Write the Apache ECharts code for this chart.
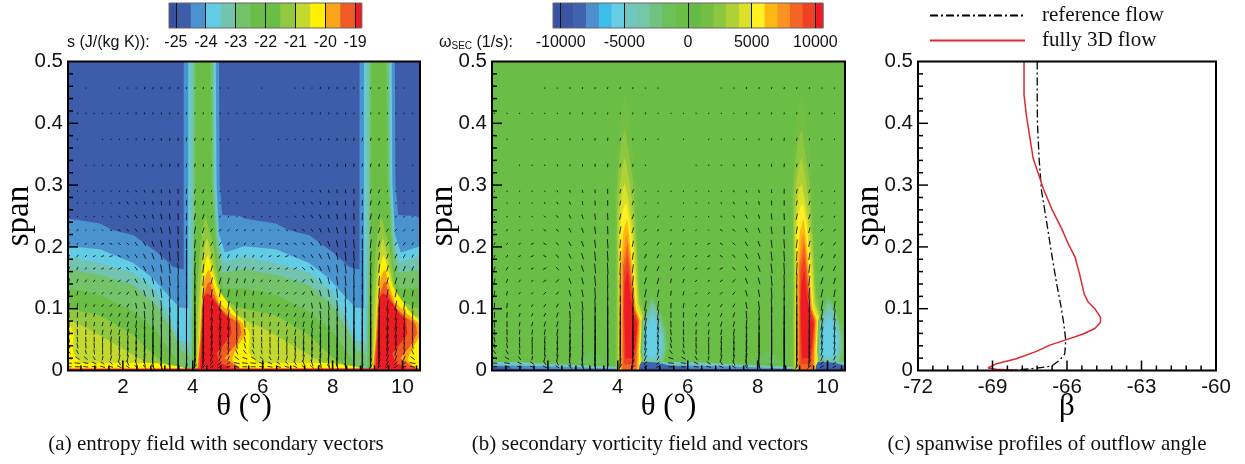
<!DOCTYPE html>
<html>
<head>
<meta charset="utf-8">
<script src="https://cdn.jsdelivr.net/npm/echarts@6/dist/echarts.min.js"></script>
<style>html,body{margin:0;background:#fff}#main{width:1245px;height:464px}</style>
</head>
<body>
<div id="main"></div>
<script>
// colour bars: edges of each colour piece
var entropyEdges = [-25.23, -25, -24.5, -24, -23.5, -23, -22.5, -22, -21.5, -21, -20.5, -20, -19.5, -19, -18.78];
var entropyColors = ['#38529f', '#3d5ca9', '#4b93cf', '#62cce5', '#72c4ae', '#74c269', '#6abd45', '#6abd45', '#92c83e', '#c4d92f', '#fff100', '#faa41a', '#f15a24', '#ed1c24'];
var entropyTicks = [-25, -24, -23, -22, -21, -20, -19];
var vortEdges = [-10600, -10000, -9000, -8000, -7000, -6000, -5000, -4000, -3000, -2000, -1000, 0, 1000, 2000, 3000, 4000, 5000, 6000, 7000, 8000, 9000, 10000, 10600];
var vortColors = ['#3853a4', '#3b55a5', '#3f63ae', '#4d8fcc', '#3dbde9', '#67cde3', '#71c7c0', '#73c6a6', '#70c27e', '#6cc05a', '#6abd45', '#66bb46', '#72bf44', '#8dc63f', '#b0d136', '#dbe128', '#fff01f', '#fdb913', '#f99221', '#f26522', '#ef4123', '#ed1c24'];
var vortTicks = [-10000, -5000, 0, 5000, 10000];

// axis ticks of the three panels
var thetaTicks = [2, 4, 6, 8, 10];
var thetaMinor = [.8, 1.2, 1.6, 2.4, 2.8, 3.2, 3.6, 4.4, 4.8, 5.2, 5.6, 6.4, 6.8, 7.2, 7.6, 8.4, 8.8, 9.2, 9.6, 10.4];
var betaTicks = [-69, -66, -63];
var betaMinor = [-71.4, -70.8, -70.2, -69.6, -68.4, -67.8, -67.2, -66.6, -65.4, -64.8, -64.2, -63.6, -62.4, -61.8, -61.2, -60.6];
var spanTicks = [.1, .2, .3, .4];
var spanMinor = [.02, .04, .06, .08, .12, .14, .16, .18, .22, .24, .26, .28, .32, .34, .36, .38, .42, .44, .46, .48];

// entropy contours, one blade pitch, painted low to high
var pitchA = [-5.03, 0, 5.03];
var entropyValues = [-24.75, -24.25, -24.25, -23.75, -23.75, -23.25, -23.25, -22.75, -22.75, -22.25, -22.25, -21.25, -21.25, -20.75, -20.75, -20.25, -19.75, -19.25, -18.9, -18.9];
var entropyShapes = [
    [[-1, 0], [15, 0], [15, .5], [-1, .5]],
    [[4.7, .252], [5.34, .25], [5.47, .246], [6.37, .238], [6.75, .227], [7.33, .219], [7.99, .192], [8.47, .168], [8.73, .164], [8.95, .164], [8.95, 0], [4.7, 0]],
    [[3.74, .5], [4.75, .5], [4.77, .3], [4.84, .255], [4.84, 0], [3.74, 0]],
    [[4.7, .19], [5, .192], [5.47, .201], [6.37, .196], [7.33, .174], [7.9, .149], [8.4, .117], [8.65, .102], [8.95, .1], [8.95, 0], [4.7, 0]],
    [[3.87, .5], [4.66, .5], [4.68, .3], [4.75, .22], [4.9, .195], [4.9, 0], [3.87, 0]],
    [[4.7, .173], [5.47, .184], [6.37, .174], [7.33, .158], [7.99, .128], [8.4, .082], [8.65, .049], [8.95, .044], [8.95, 0], [4.7, 0]],
    [[3.93, .5], [4.6, .5], [4.63, .3], [4.72, .22], [4.88, .175], [4.88, 0], [3.93, 0]],
    [[4.7, .157], [5.47, .164], [6.37, .155], [7.33, .138], [7.99, .106], [8.47, .06], [8.7, .033], [8.95, .028], [8.95, 0], [4.7, 0]],
    [[4.03, .5], [4.58, .5], [4.6, .3], [4.7, .2], [4.85, .16], [4.85, 0], [3.95, 0], [3.97, .08], [4.02, .2]],
    [[4.7, .133], [5.47, .133], [6.37, .122], [7.33, .095], [7.99, .063], [8.47, .025], [8.7, .006], [8.95, .003], [8.95, 0], [4.7, 0]],
    [[4.08, .5], [4.5, .5], [4.55, .3], [4.7, .17], [4.85, .135], [4.85, 0], [3.97, 0], [4, .1], [4.06, .25]],
    [[4.9, .109], [5.47, .1], [6.37, .09], [7.33, .057], [7.99, .022], [8.3, .009], [8.5, .002], [8.5, 0], [4.9, 0]],
    [[4.37, .25], [4.45, .23], [4.6, .2], [4.72, .15], [4.85, .115], [5.2, .105], [5.2, 0], [4.03, 0], [4.08, .1], [4.18, .18], [4.27, .23]],
    [[5.3, .085], [5.47, .082], [5.9, .071], [6.37, .057], [7.33, .025], [7.8, .01], [8.1, .002], [8.1, 0], [5.3, 0]],
    [[4.42, .214], [4.55, .18], [4.72, .135], [4.95, .095], [5.47, .085], [5.47, 0], [4.1, 0], [4.16, .1], [4.25, .17], [4.35, .205]],
    [[4.44, .187], [4.52, .17], [4.68, .136], [5.15, .097], [5.47, .079], [5.63, .06], [5.6, .03], [5.82, .012], [8, .012], [8.7, .006], [8.95, 0], [4.11, 0], [4.18, .05], [4.22, .1], [4.28, .15], [4.38, .18]],
    [[4.47, .163], [4.58, .14], [4.75, .11], [5.1, .092], [5.44, .076], [5.49, .057], [5.25, .036], [5.11, .017], [5.34, .004], [5.34, 0], [4.12, 0], [4.2, .05], [4.24, .1], [4.3, .14], [4.4, .158]],
    [[4.47, .144], [4.58, .125], [4.8, .1], [5.1, .085], [5.34, .076], [5.39, .06], [5.2, .04], [4.9, .02], [5.34, .004], [5.34, 0], [4.14, 0], [4.22, .05], [4.27, .1], [4.33, .125], [4.42, .14]],
    [[4.5, .122], [4.73, .105], [4.87, .093], [5.06, .082], [5.11, .06], [4.87, .041], [4.68, .028], [4.77, .012], [5.06, .006], [5.06, 0], [4.2, 0], [4.25, .055], [4.32, .12], [4.42, .125]],
    [[-1, 0], [15, 0], [15, .003], [-1, .003]]
];

// vorticity contours
var pitchB = [-5.05, 0, 5.05];
var vortValues = [-500, 1500, 2500, 3500, 4500, 5500, 6500, 7500, 8500, 9500, 10300, -1500, -2500, -3500, -4500, -5500, -1500, -4500, -7500, -8500, -9500];
var vortShapes = [
    [[-1, 0], [15, 0], [15, .5], [-1, .5]],
    [[4.21, .448], [4.34, .41], [4.45, .35], [4.54, .3], [4.6, .2], [4.66, .12], [4.86, .08], [4.8, .03], [4.72, 0], [3.92, 0], [3.92, .3], [3.98, .35], [4.08, .41]],
    [[4.21, .392], [4.32, .35], [4.45, .3], [4.55, .2], [4.62, .12], [4.82, .08], [4.76, .03], [4.7, 0], [3.96, 0], [3.96, .28], [4.02, .33], [4.1, .37]],
    [[4.21, .346], [4.32, .31], [4.42, .27], [4.52, .2], [4.6, .11], [4.78, .08], [4.73, .03], [4.68, 0], [4, 0], [3.99, .25], [4.05, .3], [4.12, .33]],
    [[4.21, .303], [4.32, .27], [4.42, .23], [4.5, .18], [4.57, .11], [4.74, .08], [4.7, .03], [4.66, 0], [4.03, 0], [4.02, .22], [4.08, .27], [4.14, .295]],
    [[4.24, .271], [4.34, .24], [4.42, .2], [4.48, .15], [4.55, .1], [4.7, .08], [4.64, .03], [4.63, 0], [4.05, 0], [4.05, .2], [4.1, .25], [4.18, .265]],
    [[4.27, .246], [4.36, .2], [4.44, .15], [4.52, .1], [4.66, .08], [4.6, .03], [4.6, 0], [4.08, 0], [4.09, .18], [4.16, .225]],
    [[4.27, .222], [4.36, .18], [4.43, .14], [4.5, .1], [4.62, .08], [4.57, .03], [4.56, 0], [4.1, 0], [4.12, .17], [4.2, .21]],
    [[4.28, .208], [4.38, .15], [4.47, .1], [4.6, .08], [4.55, .03], [4.53, 0], [4.13, 0], [4.15, .17]],
    [[4.28, .187], [4.37, .14], [4.46, .1], [4.58, .08], [4.52, .035], [4.47, .01], [4.18, .01], [4.16, .1], [4.18, .16]],
    [[4.28, .163], [4.36, .12], [4.46, .09], [4.56, .075], [4.5, .04], [4.42, .02], [4.22, .02], [4.18, .1], [4.2, .14]],
    [[4.95, .125], [5.15, .105], [5.35, .075], [5.45, .045], [5.35, .012], [4.7, .012], [4.65, .03], [4.68, .08]],
    [[4.97, .118], [5.2, .095], [5.35, .065], [5.4, .04], [5.3, .012], [4.72, .012], [4.68, .03], [4.72, .08]],
    [[5, .11], [5.2, .085], [5.32, .06], [5.35, .035], [5.25, .014], [4.74, .014], [4.7, .03], [4.74, .08]],
    [[5, .1], [5.18, .08], [5.3, .055], [5.28, .03], [5.18, .016], [4.76, .018], [4.72, .03], [4.76, .07]],
    [[5, .09], [5.15, .07], [5.26, .05], [5.2, .028], [4.95, .02], [4.78, .028], [4.75, .06]],
    [[8.3, .032], [8.5, .025], [8.7, .012], [7.85, .012], [8.1, .025]],
    [[4.68, .012], [6, .014], [7.4, .01], [9, .006], [9, 0], [4.68, 0]],
    [[4.68, .007], [6, .008], [7.4, .006], [9, .003], [9, 0], [4.68, 0]],
    [[4.62, .008], [4.68, .014], [5.1, .013], [5.5, .008], [6, .005], [6, 0], [4.6, 0]],
    [[4.62, .004], [6, .003], [9, .002], [9, 0], [4.62, 0]]
];

// secondary vectors: column and row positions, then components per row
var vecThetaA = [.46, .7, .94, 1.18, 1.42, 1.66, 1.9, 2.14, 2.38, 2.62, 2.86, 3.1, 3.34, 3.58, 3.82, 4.06, 4.3, 4.54, 4.78, 5.02, 5.26,
    5.49, 5.73, 5.97, 6.21, 6.45, 6.69, 6.93, 7.17, 7.41, 7.65, 7.89, 8.13, 8.37, 8.61, 8.85, 9.09, 9.33, 9.57, 9.81, 10.05, 10.29];
var vecThetaB = [.47, .83, 1.19, 1.55, 1.91, 2.27, 2.63, 2.99, 3.35, 3.71, 4.07, 4.43, 4.79, 5.15,
    5.52, 5.88, 6.24, 6.6, 6.96, 7.32, 7.68, 8.04, 8.4, 8.76, 9.12, 9.48, 9.84, 10.2];
var vecColsA = [0, 1, 2, 3, 4, 5, 6, 7, 8, 9, 10, 11, 12, 13, 14, 15, 16, 17, 18, 19, 20];
var vecColsB = [0, 1, 3, 4, 6, 7, 9, 10, 12, 13, 15, 16, 18, 19];
var vecSpans = [.457, .416, .374, .332, .29, .271, .249, .227, .205, .185, .165, .145, .125, .105, .09, .075, .062, .05, .04, .03, .02, .012, .006];
// vertical part, 0.001 span
var vecV = [
    [0, 0, 2, 0, 0, 0, 2, 2, 2, 3, 3, 3, 3, 3, 3, 3, 3, 3, 2, 2, 0],
    [2, 2, 2, 2, 2, 2, 2, 2, 3, 3, 3, 3, 3, 3, 4, 3, 3, 3, 3, 2, 2],
    [0, 2, 0, 0, 2, 2, 2, 2, 3, 3, 3, 4, 4, 5, 6, 5, 4, 3, 3, 2, 0],
    [0, 0, 2, 2, 2, 2, 2, 3, 3, 3, 4, 5, 5, 6, 6, 6, 5, 3, 2, 0, 2],
    [2, 2, 2, 2, 2, 2, 2, 3, 3, 4, 5, 6, 6, 8, 8, 7, 6, 3, 2, 2, 2],
    [0, 2, 2, 2, 2, 2, 3, 4, 4, 5, 6, 7, 8, 9, 9, 8, 7, 3, 2, 2, 2],
    [2, 2, 2, 2, 2, 2, 3, 4, 5, 6, 7, 9, 10, 11, 12, 10, 8, 4, 3, 3, 2],
    [3, 3, 2, 2, 2, 2, 3, 4, 5, 7, 8, 10, 12, 13, 14, 12, 9, 5, 4, 3, 3],
    [4, 3, 3, 2, 2, 2, 3, 4, 6, 7, 9, 11, 13, 15, 17, 14, 10, 6, 5, 5, 4],
    [4, 4, 3, 2, 2, 2, 3, 5, 6, 8, 10, 12, 15, 17, 20, 16, 12, 8, 7, 6, 5],
    [6, 5, 3, 2, 2, 3, 3, 5, 6, 8, 10, 13, 16, 19, 24, 20, 14, 10, 9, 8, 7],
    [7, 6, 4, 3, 2, 2, 3, 5, 7, 9, 11, 14, 17, 21, 26, 24, 16, 11, 11, 10, 8],
    [8, 7, 5, 3, 3, 3, 4, 5, 8, 10, 12, 15, 19, 24, 30, 28, 18, 13, 13, 12, 10],
    [9, 8, 6, 4, 4, 4, 5, 6, 9, 11, 14, 17, 22, 27, 34, 32, 22, 16, 16, 15, 12],
    [10, 9, 7, 6, 5, 5, 6, 8, 10, 13, 16, 20, 25, 30, 36, 34, 26, 18, 18, 17, 14],
    [11, 10, 9, 7, 7, 7, 8, 9, 12, 15, 19, 23, 28, 33, 38, 35, 30, 20, 20, 18, 15],
    [10, 10, 9, 8, 8, 8, 9, 11, 14, 17, 21, 25, 30, 35, 38, 36, 30, 20, 18, 16, 13],
    [9, 9, 9, 9, 9, 10, 11, 13, 15, 19, 23, 27, 32, 36, 38, 36, 28, 18, 16, 14, 11],
    [8, 8, 9, 9, 10, 10, 12, 14, 16, 20, 24, 28, 32, 36, 38, 34, 26, 16, 14, 12, 10],
    [6, 7, 7, 8, 9, 10, 12, 14, 16, 19, 23, 27, 30, 34, 36, 30, 22, 14, 12, 10, 8],
    [3, 4, 5, 6, 7, 8, 10, 11, 13, 16, 20, 24, 27, 30, 30, 24, 18, 11, 9, 7, 5],
    [1, 1, 2, 3, 4, 5, 7, 8, 10, 12, 15, 18, 20, 22, 22, 16, 12, 8, 6, 4, 2],
    [0, 0, 1, 1, 2, 2, 3, 4, 5, 6, 8, 10, 11, 12, 10, 8, 6, 4, 3, 2, 1]
];
// horizontal part, 0.01 degree
var vecU = [
    [0, 0, 0, 0, 0, 0, 0, 0, 0, 1, 1, 1, 1, 1, 1, 1, 1, 0, 0, 0, 0],
    [0, 0, 0, 0, 0, 0, 0, 0, 0, 1, 1, 1, 1, 1, 2, 1, 1, 1, 1, 0, 0],
    [0, 0, 0, 0, 0, 0, 0, 0, 0, 0, 0, 1, 1, 1, 2, 2, 1, 1, 0, 0, 0],
    [0, 0, 0, 0, 0, 0, -1, -1, -1, 0, 0, 0, 0, 1, 2, 2, 1, 1, 0, 0, 0],
    [0, 0, 0, 0, -1, -2, -2, -3, -4, -3, -2, -1, -1, 0, 1, 3, 4, 3, 2, 1, 0],
    [0, 0, 0, 0, -1, -2, -3, -4, -4, -3, -2, -1, -1, 0, 1, 3, 4, 3, 2, 1, 0],
    [2, 2, 2, 2, -2, -4, -5, -6, -6, -5, -4, -3, -2, -1, 1, 4, 5, 4, 5, 4, 3],
    [3, 3, 3, 3, -3, -6, -7, -7, -7, -6, -5, -4, -3, -1, 1, 4, 5, 6, 7, 6, 5],
    [4, 4, 5, 6, 8, -8, -8, -8, -7, -7, -6, -4, -3, -2, 0, 3, 4, 6, 7, 6, 5],
    [4, 5, 6, 7, 8, 9, -8, -8, -8, -7, -6, -5, -3, -2, 0, 2, 3, 5, 6, 6, 5],
    [4, 5, 6, 7, 7, 8, 9, -8, -7, -7, -6, -4, -3, -2, 0, 2, 3, 5, 6, 6, 5],
    [3, 4, 5, 6, 6, 7, 8, 8, -7, -6, -5, -4, -3, -1, 0, 1, 3, 5, 6, 5, 4],
    [2, 3, 4, 5, 5, 6, 7, 7, -5, -5, -4, -3, -2, -1, 0, 1, 2, 4, 5, 4, 3],
    [1, 2, 3, 4, 5, 6, 6, 6, -3, -4, -3, -2, -2, -1, 0, 1, 2, 4, 5, 4, 2],
    [0, 1, 2, 3, 4, 5, 5, 5, 3, -2, -2, -2, -1, 0, 0, 1, 2, 4, 5, 4, 1],
    [-1, 0, 1, 2, 3, 4, 4, 4, 3, 2, -1, -1, -1, 0, 0, 1, 2, 5, 6, 4, 0],
    [-2, -1, 0, 1, 2, 3, 3, 3, 3, 2, 1, -1, 0, 0, 0, 1, 2, 5, 6, 4, -1],
    [-3, -2, -1, 0, 1, 2, 2, 2, 2, 2, 1, 1, 0, 0, 0, 1, 2, 4, 5, 3, -2],
    [-4, -3, -2, -1, 0, 1, 2, 2, 2, 2, 1, 1, 1, 0, 0, 1, 2, 5, 5, 3, -3],
    [-8, -6, -3, -2, 0, 1, 2, 3, 3, 3, 2, 1, 1, 0, 0, 1, 3, 6, 6, 4, -6],
    [-14, -12, -10, -6, 2, 4, 4, 4, 3, 3, 2, 2, 1, 1, 1, 2, 4, 7, 6, 5, -12],
    [-16, -16, -14, -12, -10, -8, -8, -6, -6, -5, -4, -3, -2, 1, 2, 4, 6, 8, 8, 8, -16],
    [-14, -14, -14, -14, -14, -12, -12, -10, -10, -8, -8, -6, -4, 3, 5, 8, 10, 10, 10, 10, -14]
];

// spanwise profiles, panel (c)
var refBeta = [-67.2, -67.2, -67.19, -67.12, -67.03, -66.83, -66.62, -66.42, -66.26, -66.13, -66.05, -66.09, -66.29, -66.62, -67.23, -67.77, -68.3];
var refSpan = [.5, .438, .4, .341, .292, .243, .189, .141, .108, .076, .049, .027, .017, .007, .004, .0016, 0];
var fullBeta = [-67.73, -67.73, -67.63, -67.5, -67.36, -67.16, -66.96, -66.62, -66.22, -65.95, -65.68, -65.48, -65.31, -65.15, -64.88, -64.65, -64.65, -64.88, -65.35, -66.02, -66.69, -67.23, -68.04, -68.84, -69.18, -68.84, -68.04];
var fullSpan = [.5, .446, .411, .378, .343, .319, .295, .262, .23, .205, .184, .154, .124, .111, .1, .086, .078, .068, .059, .05, .041, .031, .019, .011, .004, .002, .0005];

var sans = 'Liberation Sans';
var serif = 'Liberation Serif';

function pieceColor(v, edges, colors) {
    for (var i = 0; i < colors.length; i++) {
        if (v < edges[i + 1]) return colors[i];
    }
    return colors[colors.length - 1];
}

function fieldSeries(axisIdx, values, shapes, shifts, edges, colors) {
    var data = [];
    values.forEach(function (v, i) {
        shifts.forEach(function (s) { data.push([v, i, s]); });
    });
    return {
        type: 'custom', xAxisIndex: axisIdx, yAxisIndex: axisIdx, clip: true, silent: true,
        encode: {x: 0, y: 1},
        data: data,
        renderItem: function (params, api) {
            var shift = api.value(2);
            var pts = shapes[api.value(1)].map(function (p) {
                return api.coord([p[0] + shift, p[1]]);
            });
            return {type: 'polygon', shape: {points: pts}, style: {fill: pieceColor(api.value(0), edges, colors)}};
        }
    };
}

function vectorSeries(axisIdx, thetas, cols) {
    var data = [];
    vecSpans.forEach(function (s, r) {
        thetas.forEach(function (t, c) {
            var k = cols[c % cols.length];
            if (vecV[r][k] || vecU[r][k]) data.push([t, s, vecU[r][k] / 100, vecV[r][k] / 1000]);
        });
    });
    return {
        type: 'custom', xAxisIndex: axisIdx, yAxisIndex: axisIdx, clip: true, silent: true,
        encode: {x: 0, y: 1},
        data: data,
        renderItem: function (params, api) {
            var t = api.value(0), s = api.value(1), u = api.value(2), v = api.value(3);
            var a = api.coord([t - u / 2, s - v / 2]);
            var b = api.coord([t + u / 2, s + v / 2]);
            return {type: 'line', shape: {x1: a[0], y1: a[1], x2: b[0], y2: b[1]}, style: {stroke: '#000', lineWidth: .8}};
        }
    };
}

// inward ticks, painted over the fields and vectors
function tickSeries(axisIdx, xMin, xMajor, xMinor) {
    var data = [];
    xMajor.forEach(function (v) { data.push([v, 0, 0, 10]); });
    xMinor.forEach(function (v) { data.push([v, 0, 0, 5]); });
    spanTicks.forEach(function (v) { data.push([xMin, v, 10, 0]); });
    spanMinor.forEach(function (v) { data.push([xMin, v, 5, 0]); });
    return {
        type: 'custom', xAxisIndex: axisIdx, yAxisIndex: axisIdx, silent: true, z: 4,
        encode: {x: 0, y: 1},
        data: data,
        renderItem: function (params, api) {
            var p = api.coord([api.value(0), api.value(1)]);
            return {
                type: 'line',
                shape: {x1: p[0], y1: p[1], x2: p[0] + api.value(2), y2: p[1] - api.value(3)},
                style: {stroke: '#000', lineWidth: 1.5}
            };
        }
    };
}

function colorbarSeries(axisIdx, edges, colors) {
    return {
        type: 'custom', xAxisIndex: axisIdx, yAxisIndex: axisIdx, silent: true,
        encode: {x: 0, y: 2},
        data: colors.map(function (c, i) { return [edges[i], edges[i + 1], 0, 1, i]; }),
        renderItem: function (params, api) {
            var a = api.coord([api.value(0), api.value(3)]);
            var b = api.coord([api.value(1), api.value(2)]);
            return {type: 'rect', shape: {x: a[0], y: a[1], width: b[0] - a[0] + .5, height: b[1] - a[1]}, style: {fill: colors[api.value(4)]}};
        }
    };
}

function spanAxis(i) {
    return {
        gridIndex: i, type: 'value', min: 0, max: .5, interval: .1, z: 5,
        name: 'span', nameLocation: 'middle', nameGap: 32, nameMoveOverlap: false,
        nameTextStyle: {fontFamily: serif, fontSize: 33, color: '#000'},
        axisLine: {show: false},
        axisTick: {show: false},
        splitLine: {show: false},
        axisLabel: {margin: 5, fontFamily: sans, fontSize: 20.5, color: '#111'}
    };
}

function thetaAxis(i, min) {
    return {
        gridIndex: i, type: 'value', min: min, max: 10.5, z: 5,
        name: 'θ (°)', nameLocation: 'middle', nameGap: 21, nameMoveOverlap: false,
        nameTextStyle: {fontFamily: serif, fontSize: 31, color: '#000'},
        axisLine: {show: false},
        axisTick: {show: false},
        splitLine: {show: false},
        axisLabel: {margin: 6, fontFamily: sans, fontSize: 20.5, color: '#111', customValues: thetaTicks}
    };
}

function barAxis(i, edges, ticks) {
    return {
        gridIndex: i, type: 'value', min: edges[0], max: edges[edges.length - 1], z: 5,
        axisLine: {show: false},
        axisTick: {show: true, inside: true, length: 25, customValues: ticks, lineStyle: {color: '#111', width: 1}},
        splitLine: {show: false},
        axisLabel: {
            margin: 7, fontFamily: sans, fontSize: 16, color: '#111', customValues: ticks,
            formatter: function (v) { return String(v); }
        }
    };
}

function barY(i) {
    return {gridIndex: i, type: 'value', min: 0, max: 1, show: false};
}

function caption(text, x) {
    return {text: text, left: x, top: 434, padding: 0, textAlign: 'center',
        textStyle: {fontFamily: serif, fontSize: 21, fontWeight: 'normal', color: '#111'}};
}

var chart = echarts.init(document.getElementById('main'));
var frame = {show: true, z: 5, borderColor: '#000', borderWidth: 2, backgroundColor: 'transparent', outerBoundsMode: 'none'};
var barFrame = {show: true, z: 5, borderColor: '#666', borderWidth: 1, backgroundColor: 'transparent', outerBoundsMode: 'none'};

chart.setOption({
    animation: false,
    backgroundColor: '#fff',
    title: [
        caption('(a) entropy field with secondary vectors', 216),
        caption('(b) secondary vorticity field and vectors', 640),
        caption('(c) spanwise profiles of outflow angle', 1047),
        {text: 's (J/(kg K)):', left: 67, top: 35, padding: 0,
            textStyle: {fontFamily: sans, fontSize: 16, fontWeight: 'normal', color: '#111'}},
        {text: '{w|ω}{s|SEC}{w| (1/s):}', left: 439, top: 35, padding: 0,
            textStyle: {rich: {
                w: {fontFamily: sans, fontSize: 16, fontWeight: 'normal', color: '#111'},
                s: {fontFamily: sans, fontSize: 10, fontWeight: 'normal', color: '#111', verticalAlign: 'bottom', padding: [6, 0, 0, 0]}
            }}}
    ],
    legend: {
        left: 929, top: 5, padding: 0, orient: 'vertical', itemWidth: 95, itemHeight: 14, itemGap: 4,
        itemStyle: {color: 'transparent', borderColor: 'transparent', opacity: 0},
        data: ['reference flow', 'fully 3D flow'],
        textStyle: {fontFamily: serif, fontSize: 21, color: '#111', padding: [0, 0, 0, 12]}
    },
    grid: [
        Object.assign({left: 68, top: 61.5, width: 352, height: 309}, frame),
        Object.assign({left: 492, top: 61.5, width: 353, height: 309}, frame),
        Object.assign({left: 918, top: 61.5, width: 298, height: 309}, frame),
        Object.assign({left: 169, top: 3, width: 192.7, height: 25}, barFrame),
        Object.assign({left: 553, top: 3, width: 270, height: 25}, barFrame)
    ],
    xAxis: [
        thetaAxis(0, .43),
        thetaAxis(1, .4),
        {
            gridIndex: 2, type: 'value', min: -72, max: -60, interval: 3, z: 5,
            name: 'β', nameLocation: 'middle', nameGap: 21, nameMoveOverlap: false,
            nameTextStyle: {fontFamily: serif, fontSize: 31, color: '#000'},
            axisLine: {show: false},
            axisTick: {show: false},
            splitLine: {show: false},
            axisLabel: {margin: 6, fontFamily: sans, fontSize: 20.5, color: '#111'}
        },
        barAxis(3, entropyEdges, entropyTicks),
        barAxis(4, vortEdges, vortTicks)
    ],
    yAxis: [spanAxis(0), spanAxis(1), spanAxis(2), barY(3), barY(4)],
    series: [
        fieldSeries(0, entropyValues, entropyShapes, pitchA, entropyEdges, entropyColors),
        vectorSeries(0, vecThetaA, vecColsA),
        tickSeries(0, .43, thetaTicks, thetaMinor),
        fieldSeries(1, vortValues, vortShapes, pitchB, vortEdges, vortColors),
        vectorSeries(1, vecThetaB, vecColsB),
        tickSeries(1, .4, thetaTicks, thetaMinor),
        {
            name: 'reference flow', type: 'line', xAxisIndex: 2, yAxisIndex: 2, showSymbol: false, symbol: 'none',
            data: refBeta.map(function (b, i) { return [b, refSpan[i]]; }),
            lineStyle: {color: '#000', width: 1.3, type: [8, 3, 2, 3]},
            itemStyle: {color: '#000'}
        },
        {
            name: 'fully 3D flow', type: 'line', xAxisIndex: 2, yAxisIndex: 2, showSymbol: false, symbol: 'none',
            data: fullBeta.map(function (b, i) { return [b, fullSpan[i]]; }),
            lineStyle: {color: '#dc2a30', width: 1.5},
            itemStyle: {color: '#dc2a30'}
        },
        tickSeries(2, -72, betaTicks, betaMinor),
        colorbarSeries(3, entropyEdges, entropyColors),
        colorbarSeries(4, vortEdges, vortColors)
    ]
});
</script>
</body>
</html>
